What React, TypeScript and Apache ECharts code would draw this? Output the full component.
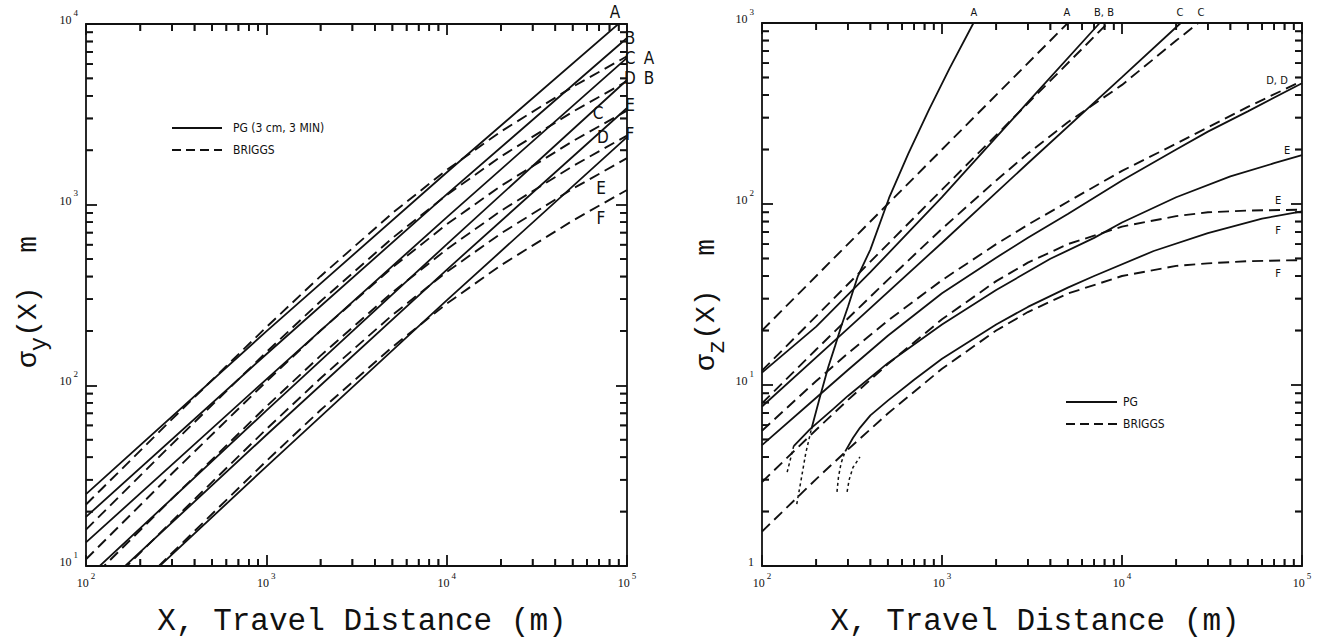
import React, { useEffect, useRef } from "react";
import * as echarts from "echarts";

// ---------- Left panel: sigma_y (m) vs travel distance X (m) ----------
const PGY_X = [100, 1000, 10000, 100000];
const PGY_A = [25, 199, 1507, 11000];
const PGY_B = [18.7, 148.6, 1140, 8360];
const PGY_C = [13.5, 108, 851, 6490];
const PGY_D = [8.5, 72.4, 603, 4900];
const PGY_E = [6.3, 53.1, 436, 3430];
const PGY_F = [4.17, 35.5, 295, 2366];

const BRY_X = [100, 300, 1000, 2000, 5000, 10000, 20000, 50000, 100000];
const BRY_A = [21.9, 65, 210, 402, 898, 1556, 2540, 4490, 6633];
const BRY_B = [15.9, 47.3, 152.6, 292, 653, 1131, 1848, 3266, 4824];
const BRY_C = [10.9, 32.5, 104.9, 201, 449, 778, 1270, 2245, 3317];
const BRY_D = [7.96, 23.6, 76.3, 146, 327, 566, 924, 1633, 2412];
const BRY_E = [5.97, 17.7, 57.2, 109.5, 245, 424, 693, 1225, 1809];
const BRY_F = [3.98, 11.8, 38.1, 73, 163, 283, 462, 816, 1206];

// ---------- Right panel: sigma_z (m) vs travel distance X (m) ----------
const PGZ_A_X = [188, 210, 233, 255, 275, 300, 341, 400, 508, 650, 847, 1100, 1496, 1600];
const PGZ_A = [5.7, 8.6, 12.5, 16.5, 21, 27, 40, 56, 108, 190, 332, 560, 1000, 1150];
const PGZ_A_DOT_X = [156, 165, 175, 188];
const PGZ_A_DOT = [2.2, 3.0, 4.2, 5.7];
const PGZ_B_X = [100, 200, 400, 1000, 3000, 7520, 8000];
const PGZ_B = [11.7, 21, 42, 109, 365, 1000, 1070];
const PGZ_C_X = [100, 300, 1000, 3000, 10000, 21200, 25000];
const PGZ_C = [7.6, 20.5, 61.1, 168, 502, 1000, 1170];
const PGZ_D_X = [100, 200, 300, 500, 1000, 2000, 3000, 5000, 10000, 20000, 30000, 50000, 100000];
const PGZ_D = [4.65, 8.5, 12.1, 18.7, 32.1, 50.5, 65.1, 88, 135, 200, 251, 325, 465];
const PGZ_E_X = [150, 185, 250, 300, 500, 1000, 2000, 4000, 7000, 10000, 20000, 40000, 70000, 100000];
const PGZ_E = [4.6, 5.7, 7.4, 8.7, 13.2, 21.6, 33.5, 49.8, 65, 79, 109, 142, 168, 186];
const PGZ_E_DOT_X = [138, 150];
const PGZ_E_DOT = [3.3, 4.6];
const PGZ_F_X = [290, 320, 350, 400, 500, 700, 1000, 2000, 3000, 5000, 7000, 15000, 30000, 60000, 100000];
const PGZ_F = [4.3, 5.1, 5.8, 6.8, 8.2, 10.7, 13.95, 21.6, 27, 34.5, 40, 55, 69, 83, 91];
const PGZ_F_DOT_X = [261, 266, 275, 290];
const PGZ_F_DOT = [2.57, 3.1, 3.7, 4.3];
const EXTRA_DOT_X = [297, 305, 320, 350];
const EXTRA_DOT = [2.57, 3.0, 3.5, 4.0];

const BRZ_AB_X = [100, 1000, 10000];
const BRZ_A = [20, 200, 2000];
const BRZ_B = [12, 120, 1200];
const BRZ_X = [100, 200, 300, 500, 1000, 2000, 3000, 5000, 10000, 20000, 30000, 50000, 100000];
const BRZ_C = [7.92, 15.7, 23.3, 38.1, 73, 135, 190, 283, 455, 800, 1100, 1500, 2200];
const BRZ_D = [5.59, 10.52, 14.95, 22.68, 37.95, 60, 76.8, 102.9, 152.4, 215.5, 265.2, 344, 478];
const BRZ_E = [2.91, 5.66, 8.26, 13.04, 23.08, 37.5, 47.4, 60, 75, 85.7, 90, 92, 93];
const BRZ_F = [1.55, 3.02, 4.4, 6.96, 12.3, 20, 25.3, 32, 40, 45.5, 47, 48.3, 49];

// minor tick multiples inside each decade
const MINOR_MULTS = [2, 3, 4, 5, 6, 7, 8, 9];

const INK = "#111111";
const NARROW = "'Liberation Sans Narrow', 'DejaVu Sans Condensed', 'Roboto Condensed', 'Liberation Sans', sans-serif";
const MONO = "'Liberation Mono', 'DejaVu Sans Mono', monospace";
const SERIF = "'Liberation Serif', 'DejaVu Serif', serif";

const zip = (xs: number[], ys: number[]) => xs.map((x, i) => [x, ys[i]]);

const SOLID = { color: INK, width: 1.8, type: "solid" as any };
const DASHED = { color: INK, width: 1.9, type: [11, 6] as any };
const DOTTED = { color: INK, width: 1.5, type: [3, 3] as any };

const MINOR_LEN = 7;
const MINOR_W = 1.7;

function line(data: any[], grid: number, style: any) {
  return {
    type: "line",
    xAxisIndex: grid * 2,
    yAxisIndex: grid * 2,
    data,
    symbol: "none",
    showSymbol: false,
    lineStyle: style,
    smooth: false,
    clip: true,
    silent: true,
    z: 3,
  };
}

const decadeFmt = (v: number) => {
  const e = Math.round(Math.log10(v));
  return e === 0 ? "{b|1}" : `{b|10}{s|${e}}`;
};

const RICH = {
  b: { fontFamily: SERIF, fontSize: 12, color: INK, lineHeight: 18, verticalAlign: "bottom" },
  s: { fontFamily: SERIF, fontSize: 9, color: INK, lineHeight: 18, verticalAlign: "top", padding: [0, 0, 0, 2] },
};

function logAxis(dim: "x" | "y", grid: number, pos: string, min: number, max: number, main: boolean) {
  return {
    type: "log",
    logBase: 10,
    gridIndex: grid,
    position: pos,
    min,
    max,
    axisLine: { show: true, onZero: false, lineStyle: { color: INK, width: 1.8 } },
    axisTick: { show: true, inside: true, length: 11, lineStyle: { color: INK, width: 1.8 } },
    axisLabel: main
      ? {
          show: true,
          formatter: decadeFmt,
          rich: RICH,
          margin: dim === "x" ? 5 : 8,
          padding: dim === "y" ? [0, 0, 14, 0] : 0,
          showMinLabel: true,
          showMaxLabel: true,
        }
      : { show: false },
    splitLine: { show: false },
  };
}

function decadeMinors(lo: number, hi: number) {
  const out: number[] = [];
  for (let d = lo; d < hi; d *= 10) for (const k of MINOR_MULTS) out.push(k * d);
  return out;
}

const PANELS = [
  { grid: 0, xMin: 100, xMax: 100000, yMin: 10, yMax: 10000 },
  { grid: 1, xMin: 100, xMax: 100000, yMin: 1, yMax: 1000 },
];

// minor ticks as small rect symbols placed by the log axes
function tickMarks(grid: number, data: number[][], size: number[], offset: number[]) {
  return {
    type: "scatter",
    xAxisIndex: grid * 2,
    yAxisIndex: grid * 2,
    data,
    symbol: "rect",
    symbolSize: size,
    symbolOffset: offset,
    itemStyle: { color: INK, opacity: 1 },
    clip: false,
    silent: true,
    z: 4,
  };
}

function minorTickSeries() {
  const out: any[] = [];
  PANELS.forEach((p) => {
    const xs = decadeMinors(p.xMin, p.xMax);
    const ys = decadeMinors(p.yMin, p.yMax);
    const L = MINOR_LEN;
    out.push(tickMarks(p.grid, xs.map((x) => [x, p.yMin]), [MINOR_W, L], [0, -L / 2]));
    out.push(tickMarks(p.grid, xs.map((x) => [x, p.yMax]), [MINOR_W, L], [0, L / 2]));
    out.push(tickMarks(p.grid, ys.map((y) => [p.xMin, y]), [L, MINOR_W], [L / 2, 0]));
    out.push(tickMarks(p.grid, ys.map((y) => [p.xMax, y]), [L, MINOR_W], [-L / 2, 0]));
  });
  return out;
}

function txt(text: string, x: number, y: number, size: number, family = NARROW, align = "center") {
  return {
    type: "text",
    x,
    y,
    silent: true,
    z: 10,
    style: { text, fill: INK, fontSize: size, fontFamily: family, align, verticalAlign: "middle" },
  };
}

function seg(x1: number, y1: number, x2: number, y2: number, dash?: number[], w = 2) {
  return {
    type: "line",
    silent: true,
    z: 5,
    shape: { x1, y1, x2, y2 },
    style: { stroke: INK, lineWidth: w, lineDash: dash || null },
  };
}

// same minor ticks, positioned with the chart's own scales (convertToPixel)
function minorTickGraphics(chart: any) {
  const out: any[] = [];
  const L = MINOR_LEN;
  PANELS.forEach((p) => {
    const xi = p.grid * 2;
    const yi = p.grid * 2;
    const yB = chart.convertToPixel({ yAxisIndex: yi }, p.yMin);
    const yT = chart.convertToPixel({ yAxisIndex: yi }, p.yMax);
    const xL = chart.convertToPixel({ xAxisIndex: xi }, p.xMin);
    const xR = chart.convertToPixel({ xAxisIndex: xi }, p.xMax);
    decadeMinors(p.xMin, p.xMax).forEach((v) => {
      const x = chart.convertToPixel({ xAxisIndex: xi }, v);
      out.push(seg(x, yB, x, yB - L, undefined, MINOR_W));
      out.push(seg(x, yT, x, yT + L, undefined, MINOR_W));
    });
    decadeMinors(p.yMin, p.yMax).forEach((v) => {
      const y = chart.convertToPixel({ yAxisIndex: yi }, v);
      out.push(seg(xL, y, xL + L, y, undefined, MINOR_W));
      out.push(seg(xR, y, xR - L, y, undefined, MINOR_W));
    });
  });
  return out.filter((g) => [g.shape.x1, g.shape.y1, g.shape.x2, g.shape.y2].every((n) => isFinite(n)));
}

function baseGraphics() {
  const yTitleRich = {
    n: { fontFamily: MONO, fontSize: 28, color: INK, lineHeight: 46, verticalAlign: "middle" },
    s: { fontFamily: MONO, fontSize: 24, color: INK, lineHeight: 46, verticalAlign: "bottom" },
  };
  return [
    seg(172, 128, 222, 128),
    seg(172, 150, 222, 150, [9, 5]),
    txt("PG (3 cm, 3 MIN)", 233, 128, 12, NARROW, "left"),
    txt("BRIGGS", 233, 150, 12, NARROW, "left"),
    seg(1066, 402, 1117, 402),
    seg(1066, 424, 1117, 424, [9, 5]),
    txt("PG", 1123, 402, 12, NARROW, "left"),
    txt("BRIGGS", 1123, 424, 12, NARROW, "left"),
    txt("A", 615, 12, 17),
    txt("B", 630, 38, 17),
    txt("C", 630, 58, 17),
    txt("A", 649, 58, 17),
    txt("D", 630, 78, 17),
    txt("B", 649, 78, 17),
    txt("E", 630, 105, 17),
    txt("F", 630, 134, 17),
    txt("C", 598, 113, 17),
    txt("D", 603, 137, 17),
    txt("E", 601, 188, 17),
    txt("F", 601, 218, 17),
    txt("A", 974, 12, 11),
    txt("A", 1067, 12, 11),
    txt("B, B", 1104, 12, 11),
    txt("C", 1180, 12, 11),
    txt("C", 1201, 12, 11),
    txt("D, D", 1277, 80, 11),
    txt("E", 1287, 150, 11),
    txt("E", 1278, 200, 11),
    txt("F", 1278, 230, 11),
    txt("F", 1278, 273, 11),
    txt("X, Travel Distance (m)", 362, 621, 31, MONO),
    txt("X, Travel Distance (m)", 1035, 621, 31, MONO),
    {
      type: "text",
      x: 28,
      y: 302,
      rotation: Math.PI / 2,
      silent: true,
      style: { text: "{n|σ}{s|y}{n|(X)  m}", rich: yTitleRich, align: "center", verticalAlign: "middle", fill: INK },
    },
    {
      type: "text",
      x: 706,
      y: 305,
      rotation: Math.PI / 2,
      silent: true,
      style: { text: "{n|σ}{s|z}{n|(X)  m}", rich: yTitleRich, align: "center", verticalAlign: "middle", fill: INK },
    },
  ];
}

function buildOption() {
  const xAxis = [
    logAxis("x", 0, "bottom", 100, 100000, true),
    logAxis("x", 0, "top", 100, 100000, false),
    logAxis("x", 1, "bottom", 100, 100000, true),
    logAxis("x", 1, "top", 100, 100000, false),
  ];
  const yAxis = [
    logAxis("y", 0, "left", 10, 10000, true),
    logAxis("y", 0, "right", 10, 10000, false),
    logAxis("y", 1, "left", 1, 1000, true),
    logAxis("y", 1, "right", 1, 1000, false),
  ];

  const series = [
    line(zip(PGY_X, PGY_A), 0, SOLID),
    line(zip(PGY_X, PGY_B), 0, SOLID),
    line(zip(PGY_X, PGY_C), 0, SOLID),
    line(zip(PGY_X, PGY_D), 0, SOLID),
    line(zip(PGY_X, PGY_E), 0, SOLID),
    line(zip(PGY_X, PGY_F), 0, SOLID),
    line(zip(BRY_X, BRY_A), 0, DASHED),
    line(zip(BRY_X, BRY_B), 0, DASHED),
    line(zip(BRY_X, BRY_C), 0, DASHED),
    line(zip(BRY_X, BRY_D), 0, DASHED),
    line(zip(BRY_X, BRY_E), 0, DASHED),
    line(zip(BRY_X, BRY_F), 0, DASHED),
    line(zip(PGZ_A_X, PGZ_A), 1, SOLID),
    line(zip(PGZ_A_DOT_X, PGZ_A_DOT), 1, DOTTED),
    line(zip(PGZ_B_X, PGZ_B), 1, SOLID),
    line(zip(PGZ_C_X, PGZ_C), 1, SOLID),
    line(zip(PGZ_D_X, PGZ_D), 1, SOLID),
    line(zip(PGZ_E_X, PGZ_E), 1, SOLID),
    line(zip(PGZ_E_DOT_X, PGZ_E_DOT), 1, DOTTED),
    line(zip(PGZ_F_X, PGZ_F), 1, SOLID),
    line(zip(PGZ_F_DOT_X, PGZ_F_DOT), 1, DOTTED),
    line(zip(EXTRA_DOT_X, EXTRA_DOT), 1, DOTTED),
    line(zip(BRZ_AB_X, BRZ_A), 1, DASHED),
    line(zip(BRZ_AB_X, BRZ_B), 1, DASHED),
    line(zip(BRZ_X, BRZ_C), 1, DASHED),
    line(zip(BRZ_X, BRZ_D), 1, DASHED),
    line(zip(BRZ_X, BRZ_E), 1, DASHED),
    line(zip(BRZ_X, BRZ_F), 1, DASHED),
    ...minorTickSeries(),
  ];

  return {
    animation: false,
    backgroundColor: "#ffffff",
    grid: [
      { left: 86, top: 24, width: 541, height: 542, containLabel: false },
      { left: 762, top: 23, width: 540, height: 543, containLabel: false },
    ],
    xAxis,
    yAxis,
    series,
    graphic: baseGraphics(),
  };
}

export default function App() {
  const ref = useRef<HTMLDivElement>(null);
  useEffect(() => {
    if (!ref.current) return;
    const chart = echarts.init(ref.current, undefined, { renderer: "svg" });
    chart.setOption(buildOption() as any);
    try {
      const ticks = minorTickGraphics(chart);
      chart.setOption({ graphic: [...baseGraphics(), ...ticks] } as any, { replaceMerge: ["graphic"] } as any);
    } catch (e) {
      // keep the chart without the extra tick graphics
    }
    return () => chart.dispose();
  }, []);
  return (
    <div
      ref={ref}
      style={{ position: "absolute", left: 0, top: 0, width: 1317, height: 640, background: "#fff" }}
    />
  );
}
